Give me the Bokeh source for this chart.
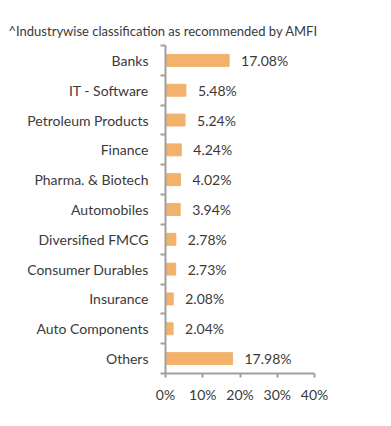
from bokeh.plotting import figure
from bokeh.models import ColumnDataSource, Range1d, FixedTicker, Title
from bokeh.embed import file_html
from bokeh.resources import INLINE
from bokeh.core.properties import value

categories = ["Banks", "IT - Software", "Petroleum Products", "Finance", "Pharma. & Biotech",
              "Automobiles", "Diversified FMCG", "Consumer Durables", "Insurance",
              "Auto Components", "Others"]
weights = [17.08, 5.48, 5.24, 4.24, 4.02, 3.94, 2.78, 2.73, 2.08, 2.04, 17.98]
x_ticks = [0, 10, 20, 30, 40]
title_text = "^Industrywise classification as recommended by AMFI"

n = len(categories)
ypos = [n - 1 - i for i in range(n)]
labels = ["%.2f%%" % v for v in weights]
src = ColumnDataSource(dict(y=ypos, w=weights, lab=labels))

FONT = "Lato"
TXT = "#3a3a3a"
AX = "#a0a0a0"
BAR = "#F2B26B"

p = figure(width=383, height=418, output_backend="svg", toolbar_location=None,
           x_range=Range1d(0, 40), y_range=Range1d(-0.5, n - 0.5),
           min_border_left=165, min_border_right=69, min_border_top=45, min_border_bottom=45)
p.outline_line_color = None
p.xgrid.visible = False
p.ygrid.visible = False

p.hbar(y="y", right="w", left=0, height=0.4, color=BAR, source=src)
p.text(x="w", y="y", text="lab", source=src, x_offset=12, text_baseline="middle",
       text_align="left", text_font=value(FONT), text_font_size="14px", text_color=TXT)

t = Title(text=title_text, align="left", offset=-157, text_font=FONT, text_font_size="13px",
          text_font_style="normal", text_color=TXT, standoff=13)
p.add_layout(t, "above")

ya = p.yaxis[0]
ya.ticker = FixedTicker(ticks=ypos, minor_ticks=[k - 0.5 for k in range(n + 1)])
ya.major_label_overrides = {yv: c for yv, c in zip(ypos, categories)}
ya.major_tick_out = 0
ya.major_tick_in = 0
ya.minor_tick_out = 5
ya.minor_tick_in = 0
ya.minor_tick_line_color = AX
ya.minor_tick_line_width = 2
ya.axis_line_color = AX
ya.axis_line_width = 2
ya.major_label_standoff = 12
ya.major_label_text_font = FONT
ya.major_label_text_font_size = "14px"
ya.major_label_text_color = TXT

xa = p.xaxis[0]
xa.ticker = FixedTicker(ticks=x_ticks)
xa.major_label_overrides = {v: "%d%%" % v for v in x_ticks}
xa.major_tick_out = 4
xa.major_tick_in = 0
xa.minor_tick_out = 0
xa.minor_tick_in = 0
xa.major_tick_line_color = AX
xa.major_tick_line_width = 2
xa.axis_line_color = AX
xa.axis_line_width = 2
xa.major_label_standoff = 8
xa.major_label_text_font = FONT
xa.major_label_text_font_size = "14px"
xa.major_label_text_color = TXT

open("out.html", "w").write(file_html(p, INLINE))
